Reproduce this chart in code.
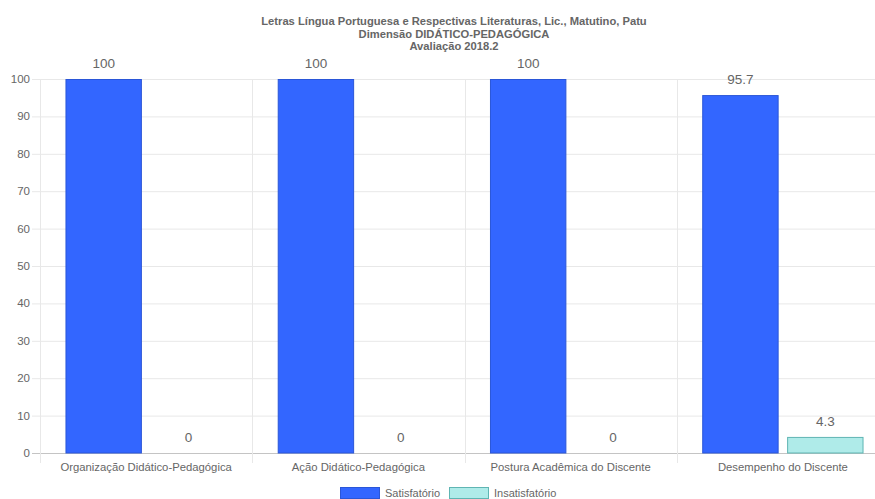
<!DOCTYPE html>
<html>
<head>
<meta charset="utf-8">
<script src="https://cdn.jsdelivr.net/npm/d3@7"></script>
<style>
  body { margin: 0; overflow: hidden; background: #fff; }
  text { font-family: "Liberation Sans", Arial, sans-serif; fill: #666; }
</style>
</head>
<body>
<div class="chart"></div>
<script>
// Data
const titleLines = [
  "Letras Língua Portuguesa e Respectivas Literaturas, Lic., Matutino, Patu",
  "Dimensão DIDÁTICO-PEDAGÓGICA",
  "Avaliação 2018.2"
];
const categories = [
  "Organização Didático-Pedagógica",
  "Ação Didático-Pedagógica",
  "Postura Acadêmica do Discente",
  "Desempenho do Discente"
];
const seriesNames = ["Satisfatório", "Insatisfatório"];
const satisfatorio = [100, 100, 100, 95.7];
const insatisfatorio = [0, 0, 0, 4.3];
const yTicks = [0, 10, 20, 30, 40, 50, 60, 70, 80, 90, 100];

// Sizes
const w = 908;
const h = 499;
const margin = { top: 79, right: 19, bottom: 46, left: 40 };
const fills = ["#3366ff", "#afebe9"];
const strokes = ["#2a56d8", "#5fb5b3"];

const svg = d3
  .select(".chart")
  .append("svg")
  .attr("width", w)
  .attr("height", h);

// Title
svg
  .append("g")
  .selectAll("text")
  .data(titleLines)
  .enter()
  .append("text")
  .text((d) => d)
  .attr("x", w / 2)
  .attr("y", (d, i) => 25 + i * 12.5)
  .attr("text-anchor", "middle")
  .style("font-size", "11.2px")
  .style("font-weight", "bold");

// Scales
const xScale = d3
  .scaleBand()
  .domain(categories)
  .range([margin.left, w - margin.right]);

const seriesScale = d3
  .scaleBand()
  .domain(seriesNames)
  .range([0, xScale.bandwidth() * 0.8])
  .paddingInner(0.1)
  .paddingOuter(0.05);

const yScale = d3
  .scaleLinear()
  .domain([0, 100])
  .range([h - margin.bottom, margin.top]);

// Horizontal grid
svg
  .append("g")
  .selectAll("line")
  .data(yTicks)
  .enter()
  .append("line")
  .attr("x1", margin.left - 8)
  .attr("x2", w - margin.right)
  .attr("y1", (d) => yScale(d) + 0.5)
  .attr("y2", (d) => yScale(d) + 0.5)
  .attr("stroke", (d) => (d === 0 ? "#c4c4c4" : "#e8e8e8"));

// Vertical grid
const vLines = categories.map((c) => xScale(c)).concat([w - margin.right]);
svg
  .append("g")
  .selectAll("line")
  .data(vLines)
  .enter()
  .append("line")
  .attr("x1", (d) => Math.round(d) + 0.5)
  .attr("x2", (d) => Math.round(d) + 0.5)
  .attr("y1", margin.top)
  .attr("y2", h - margin.bottom + 10)
  .attr("stroke", "#e8e8e8");

// Y axis labels
svg
  .append("g")
  .selectAll("text")
  .data(yTicks)
  .enter()
  .append("text")
  .text((d) => d)
  .attr("x", 30)
  .attr("y", (d) => yScale(d) + 4)
  .attr("text-anchor", "end")
  .style("font-size", "11.5px");

// X axis labels
svg
  .append("g")
  .selectAll("text")
  .data(categories)
  .enter()
  .append("text")
  .text((d) => d)
  .attr("x", (d) => xScale(d) + xScale.bandwidth() / 2)
  .attr("y", h - margin.bottom + 18)
  .attr("text-anchor", "middle")
  .style("font-size", "11.3px");

// Bars
const rows = categories.map((c, i) => ({
  category: c,
  values: [satisfatorio[i], insatisfatorio[i]]
}));

const groups = svg
  .selectAll(".group")
  .data(rows)
  .enter()
  .append("g")
  .attr("class", "group")
  .attr(
    "transform",
    (d) => `translate(${xScale(d.category) + xScale.bandwidth() * 0.1}, 0)`
  );

groups
  .selectAll("rect")
  .data((d) => d.values.map((v, j) => ({ v, s: seriesNames[j], j })))
  .enter()
  .filter((d) => d.v > 0)
  .append("rect")
  .attr("x", (d) => seriesScale(d.s) + 0.5)
  .attr("y", (d) => yScale(d.v) + 0.5)
  .attr("width", seriesScale.bandwidth() - 1)
  .attr("height", (d) => yScale(0) - yScale(d.v) - 0.5)
  .attr("fill", (d) => fills[d.j])
  .attr("stroke", (d) => strokes[d.j])
  .attr("stroke-width", 1);

// Value labels
groups
  .selectAll(".val")
  .data((d) => d.values.map((v, j) => ({ v, s: seriesNames[j], j })))
  .enter()
  .append("text")
  .attr("class", "val")
  .text((d) => d.v)
  .attr("x", (d) => seriesScale(d.s) + seriesScale.bandwidth() / 2)
  .attr("y", (d) => yScale(d.v) - 11)
  .attr("text-anchor", "middle")
  .style("font-size", "13.5px");

// Legend
const legend = svg.append("g").attr("transform", `translate(340, ${h - 12})`);
const legendX = [0, 109];
seriesNames.forEach((name, i) => {
  legend
    .append("rect")
    .attr("x", legendX[i] + 0.5)
    .attr("y", 0.5)
    .attr("width", 39)
    .attr("height", 11)
    .attr("fill", fills[i])
    .attr("stroke", strokes[i]);
  legend
    .append("text")
    .text(name)
    .attr("x", legendX[i] + 45)
    .attr("y", 10)
    .style("font-size", "11px");
});
</script>
</body>
</html>
